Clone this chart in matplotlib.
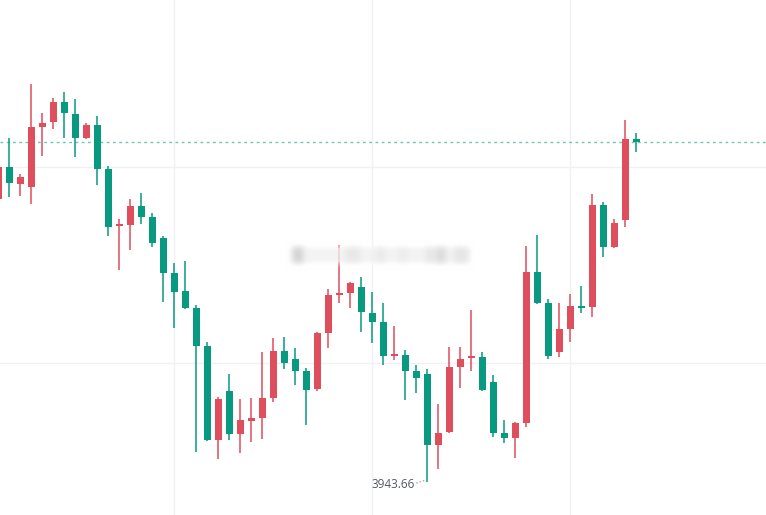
import numpy as np
import matplotlib
matplotlib.use('Agg')
import matplotlib.pyplot as plt

# daily candles, red = up, green = down
opens = [4226.7, 4258.7, 4241.7, 4238.7, 4298.7, 4303.7, 4323.7, 4311.7, 4287.7, 4300.7,
         4256.7, 4199.7, 4200.7, 4219.7, 4208.7, 4187.7, 4152.7, 4134.7, 4117.7, 4079.7,
         3985.7, 4034.7, 3991.7, 4004.7, 4007.7, 4027.7, 4074.7, 4066.7, 4054.7, 4036.7,
         4092.7, 4130.7, 4132.7, 4138.7, 4112.7, 4103.7, 4069.7, 4070.7, 4054.7, 4051.7,
         3980.7, 3993.7, 4058.7, 4067.7, 4068.7, 4043.7, 3992.7, 3987.7, 4002.7, 4153.7,
         4122.7, 4073.7, 4096.7, 4119.7, 4118.7, 4220.7, 4178.7, 4205.7, 4286.7]
highs = [4260.7, 4287.7, 4251.7, 4341.7, 4312.7, 4327.7, 4333.7, 4326.7, 4302.7, 4309.7,
         4259.7, 4206.7, 4226.7, 4232.7, 4212.7, 4189.7, 4162.7, 4164.7, 4120.7, 4083.7,
         4028.7, 4051.7, 4026.7, 4027.7, 4073.7, 4087.7, 4088.7, 4077.7, 4057.7, 4093.7,
         4136.7, 4180.7, 4143.7, 4148.7, 4133.7, 4122.7, 4099.7, 4075.7, 4060.7, 4056.7,
         4021.7, 4078.7, 4078.7, 4115.7, 4073.7, 4050.7, 4005.7, 4003.7, 4179.7, 4190.7,
         4126.7, 4122.7, 4131.7, 4139.7, 4231.7, 4223.7, 4206.7, 4305.7, 4292.7]
lows = [4223.7, 4228.7, 4229.7, 4221.7, 4269.7, 4296.7, 4287.7, 4268.7, 4286.7, 4240.7,
        4189.7, 4155.7, 4175.7, 4201.7, 4178.7, 4123.7, 4097.7, 4116.7, 3973.7, 3984.7,
        3966.7, 3985.7, 3972.7, 3983.7, 3986.7, 4023.7, 4056.7, 4040.7, 4000.7, 4034.7,
        4077.7, 4122.7, 4117.7, 4093.7, 4082.7, 4060.7, 4065.7, 4025.7, 4032.7, 3943.66,
        3956.7, 3992.7, 4037.7, 4054.7, 4034.7, 3988.7, 3982.7, 3967.7, 3998.7, 4121.7,
        4066.7, 4068.7, 4083.7, 4112.7, 4108.7, 4168.7, 4177.7, 4198.7, 4273.7]
closes = [4258.7, 4242.7, 4248.7, 4298.7, 4302.7, 4323.7, 4312.7, 4287.7, 4300.7, 4256.7,
          4198.7, 4201.7, 4219.7, 4208.7, 4182.7, 4152.7, 4133.7, 4117.7, 4079.7, 3985.7,
          4026.7, 3991.7, 4005.7, 4007.7, 4027.7, 4074.7, 4062.7, 4054.7, 4035.7, 4092.7,
          4130.7, 4132.7, 4142.7, 4113.7, 4103.7, 4069.7, 4071.7, 4054.7, 4047.7, 3980.7,
          3992.7, 4058.7, 4066.7, 4069.7, 4035.7, 3992.7, 3987.7, 4002.7, 4153.7, 4122.7,
          4069.7, 4096.7, 4119.7, 4117.7, 4220.7, 4178.7, 4202.7, 4286.7, 4283.7]

up_col = '#de4e5c'
down_col = '#089981'

fig = plt.figure(figsize=(7.66, 5.15), dpi=100)
ax = fig.add_axes([0, 0, 1, 1])
ax.set_xlim(0.155, 69.79)
ax.set_ylim(3910.7, 4425.7)
ax.axis('off')

# faint grid
for gx in [16, 34, 52]:
    ax.axvline(gx, color='#f0f1f4', lw=1, zorder=0)
for gy in [4258.7, 4062.7]:
    ax.axhline(gy, color='#f0f1f4', lw=1, zorder=0)

x = np.arange(len(opens))
for i in x:
    o, h, l, c = opens[i], highs[i], lows[i], closes[i]
    col = up_col if c >= o else down_col
    ax.vlines(i, l, h, color=col, lw=1.1, zorder=2)
    lo, hi = min(o, c), max(o, c)
    ax.bar(i, max(hi - lo, 1.2), bottom=lo, width=0.64, color=col, lw=0, zorder=3)

# last price line
ax.axhline(closes[-1], color='#6cc7b6', lw=1, ls=(0, (2, 2.5)), zorder=1)

# lowest price label
imin = int(np.argmin(lows))
ax.plot([imin - 1.0, imin - 0.1], [lows[imin] - 1, lows[imin] + 2], color='#a5a8b0',
        lw=1, ls=(0, (1, 1.5)), zorder=2)
ax.text(imin - 1.12, lows[imin] - 2, f'{lows[imin]:.2f}', ha='right', va='center',
        fontsize=8.5, color='#555863', fontfamily='Open Sans')

# blurred watermark
wm = np.zeros((34, 190))
wm[9:25, 5:185] = 0.25
for a, b, v in [(8, 18, 1.0), (60, 75, 0.5), (90, 100, 0.45), (112, 122, 0.4),
                (140, 148, 0.55), (150, 160, 0.8), (168, 182, 0.55)]:
    wm[9:25, a:b] = v
k = np.exp(-0.5 * (np.arange(-8, 9) / 3.0) ** 2)
k /= k.sum()
wm = np.apply_along_axis(lambda r: np.convolve(r, k, mode='same'), 1, wm)
wm = np.apply_along_axis(lambda r: np.convolve(r, k, mode='same'), 0, wm)
rgba = np.ones((34, 190, 4))
rgba[..., :3] = 1 - 0.22 * wm[..., None]
rgba[..., 3] = np.clip(wm * 4, 0, 0.8)
ax.imshow(rgba, extent=(26.1, 43.4, 4153.7, 4187.7), aspect='auto', zorder=4,
          interpolation='bilinear')

fig.savefig('out.png', dpi=100)
